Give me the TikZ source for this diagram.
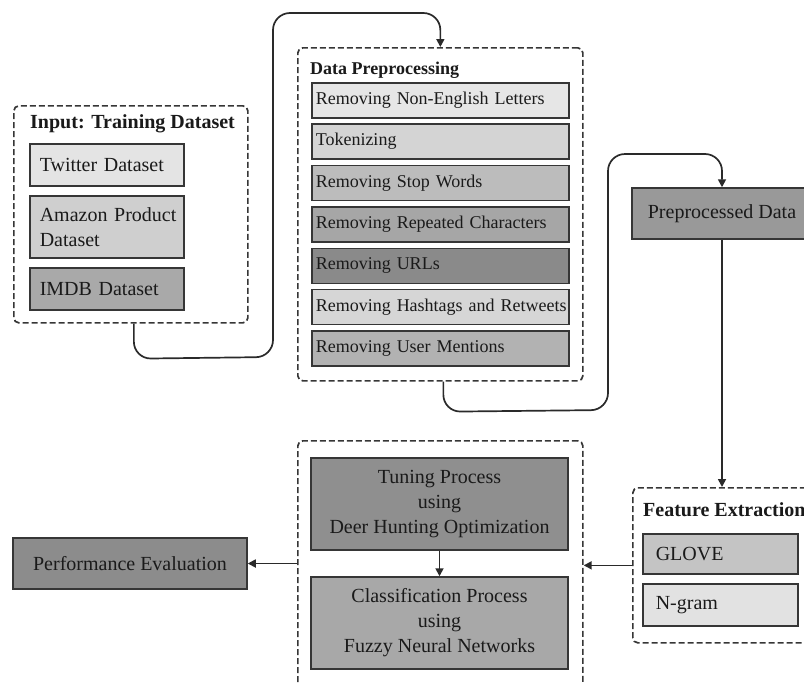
\documentclass[tikz,border=0pt]{standalone}
\usepackage{fontspec}
\setmainfont{Liberation Serif}
\usetikzlibrary{arrows.meta,calc}
\definecolor{bordc}{HTML}{363636}
\definecolor{linec}{HTML}{2A2A2A}
\definecolor{txtc}{HTML}{1A1A1A}
\definecolor{cTw}{HTML}{E4E4E4}
\definecolor{cAm}{HTML}{CFCFCF}
\definecolor{cIm}{HTML}{A9A9A9}
\definecolor{cPa}{HTML}{E6E6E6}
\definecolor{cPb}{HTML}{D4D4D4}
\definecolor{cPc}{HTML}{BCBCBC}
\definecolor{cPd}{HTML}{A6A6A6}
\definecolor{cPe}{HTML}{8A8A8A}
\definecolor{cPf}{HTML}{D6D6D6}
\definecolor{cPg}{HTML}{B2B2B2}
\definecolor{cPre}{HTML}{999999}
\definecolor{cGl}{HTML}{C4C4C4}
\definecolor{cNg}{HTML}{E2E2E2}
\definecolor{cTun}{HTML}{8F8F8F}
\definecolor{cCls}{HTML}{A8A8A8}
\definecolor{cPerf}{HTML}{8C8C8C}
\newcommand\fsz{\fontsize{18}{24}\selectfont}
\newcommand\fszL{\fontsize{20}{25}\selectfont}
\tikzset{
  cont/.style={draw=bordc, dash pattern=on 6pt off 3pt, line width=1.7pt, rounded corners=5pt, anchor=north west, inner sep=0pt},
  pbox/.style={draw=bordc, line width=1.5pt, anchor=north west, align=left, inner xsep=4pt, inner ysep=0pt, font=\fsz, text=txtc},
  cbox/.style={draw=bordc, line width=1.5pt, align=center, inner sep=0pt, font=\fszL, text=txtc},
  ttl/.style={anchor=west, font=\fszL\bfseries, text=txtc, inner sep=0pt},
  conn/.style={draw=linec, line width=1.7pt, rounded corners=17pt},
  arr/.style={-{Triangle[length=8pt,width=8pt]}}
}
\begin{document}
\begin{tikzpicture}[x=1pt,y=-1pt]
\useasboundingbox[fill=white] (0,0) rectangle (804,683);
% containers
\node[cont, minimum width=234pt, minimum height=217pt] (inp) at (13,105) {};
\node[cont, minimum width=285pt, minimum height=333pt] (dp) at (297,47) {};
\node[cont, minimum width=178pt, minimum height=155pt] (fe) at (632,487) {};
\node[cont, minimum width=285pt, minimum height=260pt] (mid) at (297,440) {};
% titles
\node[ttl] (tin) at (30,124) {Input: Training Dataset};
\node[ttl, font=\fsz\bfseries] (tdp) at (310,70) {Data Preprocessing};
\node[ttl] (tfe) at (643,510) {Feature Extraction};
% input boxes
\node[pbox, font=\fszL, fill=cTw, minimum width=154pt, minimum height=42pt, text width=134pt, inner xsep=10pt] (tw) at (29,143) {\mbox{Twitter Dataset}};
\node[pbox, font=\fszL, fill=cAm, minimum width=154pt, minimum height=62pt, text width=134pt, inner xsep=10pt] (am) at (29,195) {\mbox{Amazon Product}\\Dataset};
\node[pbox, font=\fszL, fill=cIm, minimum width=154pt, minimum height=42pt, text width=134pt, inner xsep=10pt] (im) at (29,267) {\mbox{IMDB Dataset}};
% preprocessing boxes
\node[pbox, fill=cPa, minimum width=257pt, minimum height=35pt, text width=249pt] (p1) at (311,82) {Removing Non-English Letters};
\node[pbox, fill=cPb, minimum width=257pt, minimum height=35pt, text width=249pt] (p2) at (311,123) {Tokenizing};
\node[pbox, fill=cPc, minimum width=257pt, minimum height=35pt, text width=249pt] (p3) at (311,164.5) {Removing Stop Words};
\node[pbox, fill=cPd, minimum width=257pt, minimum height=35pt, text width=249pt] (p4) at (311,206) {Removing Repeated Characters};
\node[pbox, fill=cPe, minimum width=257pt, minimum height=35pt, text width=249pt] (p5) at (311,247.5) {Removing URLs};
\node[pbox, fill=cPf, minimum width=257pt, minimum height=35pt, text width=249pt] (p6) at (311,288.5) {\mbox{Removing Hashtags and Retweets}};
\node[pbox, fill=cPg, minimum width=257pt, minimum height=35pt, text width=249pt] (p7) at (311,330) {Removing User Mentions};
% preprocessed data
\node[cbox, fill=cPre, minimum width=180pt, minimum height=51pt] (pre) at (722,213.5) {Preprocessed Data};
% feature boxes
\node[pbox, font=\fszL, fill=cGl, minimum width=155pt, minimum height=40pt, text width=129pt, inner xsep=13pt] (gl) at (642,533) {GLOVE};
\node[pbox, font=\fszL, fill=cNg, minimum width=155pt, minimum height=42pt, text width=129pt, inner xsep=13pt] (ng) at (642,583) {N-gram};
% middle boxes
\node[cbox, fill=cTun, minimum width=257pt, minimum height=92pt] (tun) at (439.5,504) {Tuning Process\\using\\Deer Hunting Optimization};
\node[cbox, fill=cCls, minimum width=257pt, minimum height=92pt] (cls) at (439.5,623) {Classification Process\\using\\Fuzzy Neural Networks};
% performance
\node[cbox, fill=cPerf, minimum width=234pt, minimum height=51pt] (perf) at (130,563.5) {Performance Evaluation};
% connectors
\draw[conn,arr] ([xshift=3pt]inp.south) -- ++(0,35) -- (273,357) -- (273,13) -- (dp.north |- 0,13) -- (dp.north);
\draw[conn,arr] ([xshift=3pt]dp.south) -- ++(0,30) -- (608,410) -- (608,154) -- (pre.north |- 0,154) -- (pre.north);
\draw[conn,arr] (pre.south) -- (pre.south |- fe.north);
\draw[conn,arr] (fe.west) -- (fe.west -| mid.east);
\draw[conn,arr] (perf.east -| mid.west) -- (perf.east);
\draw[conn,arr] (tun.south) -- (cls.north);
\end{tikzpicture}
\end{document}
